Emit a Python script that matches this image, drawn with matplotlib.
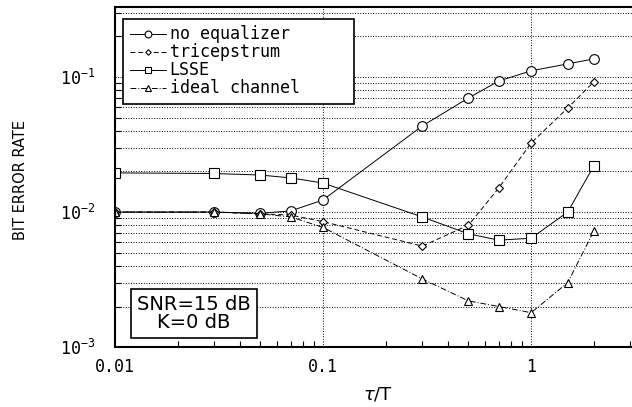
import matplotlib
matplotlib.use("Agg")
import matplotlib.pyplot as plt
from matplotlib.ticker import LogLocator, NullFormatter, FixedLocator

# data
tau = [0.01, 0.03, 0.05, 0.07, 0.1, 0.3, 0.5, 0.7, 1.0, 1.5, 2.0]
no_eq = [0.0100, 0.0100, 0.0098, 0.0102, 0.0123, 0.0434, 0.0699, 0.0934, 0.111, 0.125, 0.136]
tricep = [0.0100, 0.0100, 0.0097, 0.0095, 0.0085, 0.0056, 0.0080, 0.0151, 0.0324, 0.0589, 0.0918]
lsse = [0.0195, 0.0193, 0.0188, 0.0179, 0.0164, 0.0092, 0.0069, 0.0062, 0.0064, 0.0100, 0.0219]
ideal = [0.0100, 0.0100, 0.0097, 0.0092, 0.0077, 0.0032, 0.0022, 0.0020, 0.0018, 0.0030, 0.0072]

labels = ["no equalizer", "tricepstrum", "LSSE", "ideal channel"]
xticks = [0.01, 0.1, 1]
xticklabels = ["0.01", "0.1", "1"]

mono = "DejaVu Sans Mono"

fig = plt.figure(figsize=(6.32, 4.07), dpi=100)
ax = fig.add_axes([0.182, 0.147, 0.820, 0.836])

kw = dict(color="black", lw=0.7, mfc="white", mec="black", mew=0.8)
ax.plot(tau, no_eq, ls="-", marker="o", ms=7, label=labels[0], **kw)
ax.plot(tau, tricep, ls=(0, (5, 3)), marker="D", ms=4, label=labels[1], **kw)
ax.plot(tau, lsse, ls="-", marker="s", ms=6.5, label=labels[2], **kw)
ax.plot(tau, ideal, ls=(0, (6, 2, 1, 2)), marker="^", ms=6, label=labels[3], **kw)

ax.set_xscale("log")
ax.set_yscale("log")
ax.set_xlim(0.01, 3.1)
ax.set_ylim(1e-3, 0.33)

ax.xaxis.set_major_locator(FixedLocator(xticks))
ax.set_xticklabels(xticklabels, family=mono, fontsize=12)
ax.xaxis.set_minor_locator(LogLocator(base=10, subs=range(2, 10)))
ax.xaxis.set_minor_formatter(NullFormatter())
ax.yaxis.set_major_locator(FixedLocator([1e-3, 1e-2, 1e-1]))
ax.set_yticklabels([r"$\mathregular{10^{-3}}$", r"$\mathregular{10^{-2}}$", r"$\mathregular{10^{-1}}$"],
                   family=mono, fontsize=12)
ax.yaxis.set_minor_locator(LogLocator(base=10, subs=range(2, 10)))
ax.yaxis.set_minor_formatter(NullFormatter())

ax.tick_params(which="both", direction="in", color="black")
ax.tick_params(axis="x", which="major", length=0, pad=8)
ax.tick_params(axis="y", which="major", length=0, pad=14)
ax.tick_params(which="minor", length=4, width=0.8)

ax.grid(True, axis="x", which="major", ls=":", color="black", lw=0.7)
ax.grid(True, axis="y", which="both", ls=":", color="black", lw=0.7)

for side in ["left", "bottom", "top"]:
    ax.spines[side].set_linewidth(1.5)
ax.spines["right"].set_visible(False)

leg = ax.legend(loc="upper left", bbox_to_anchor=(0.0154, 0.706, 0.446, 0.259), mode="expand",
                borderaxespad=0, prop={"family": mono, "size": 12}, fancybox=False,
                edgecolor="black", framealpha=1, handlelength=2.2, handletextpad=0.2,
                labelspacing=0.0, borderpad=0.4, markerscale=0.7)
leg.get_frame().set_linewidth(1.2)

ax.text(0.1525, 0.1, "SNR=15 dB\nK=0 dB", transform=ax.transAxes, ha="center", va="center",
        fontsize=14, linespacing=0.95, family="DejaVu Sans",
        bbox=dict(boxstyle="square,pad=0.3", fc="white", ec="black", lw=1.2))

fig.text(0.032, 0.558, "BIT ERROR RATE", rotation=90, ha="center", va="center",
         fontsize=10.5, family="DejaVu Sans")
fig.text(0.598, 0.03, r"$\tau$/T", ha="center", va="center", fontsize=13, family="DejaVu Sans")

fig.savefig("out.png", dpi=100)
